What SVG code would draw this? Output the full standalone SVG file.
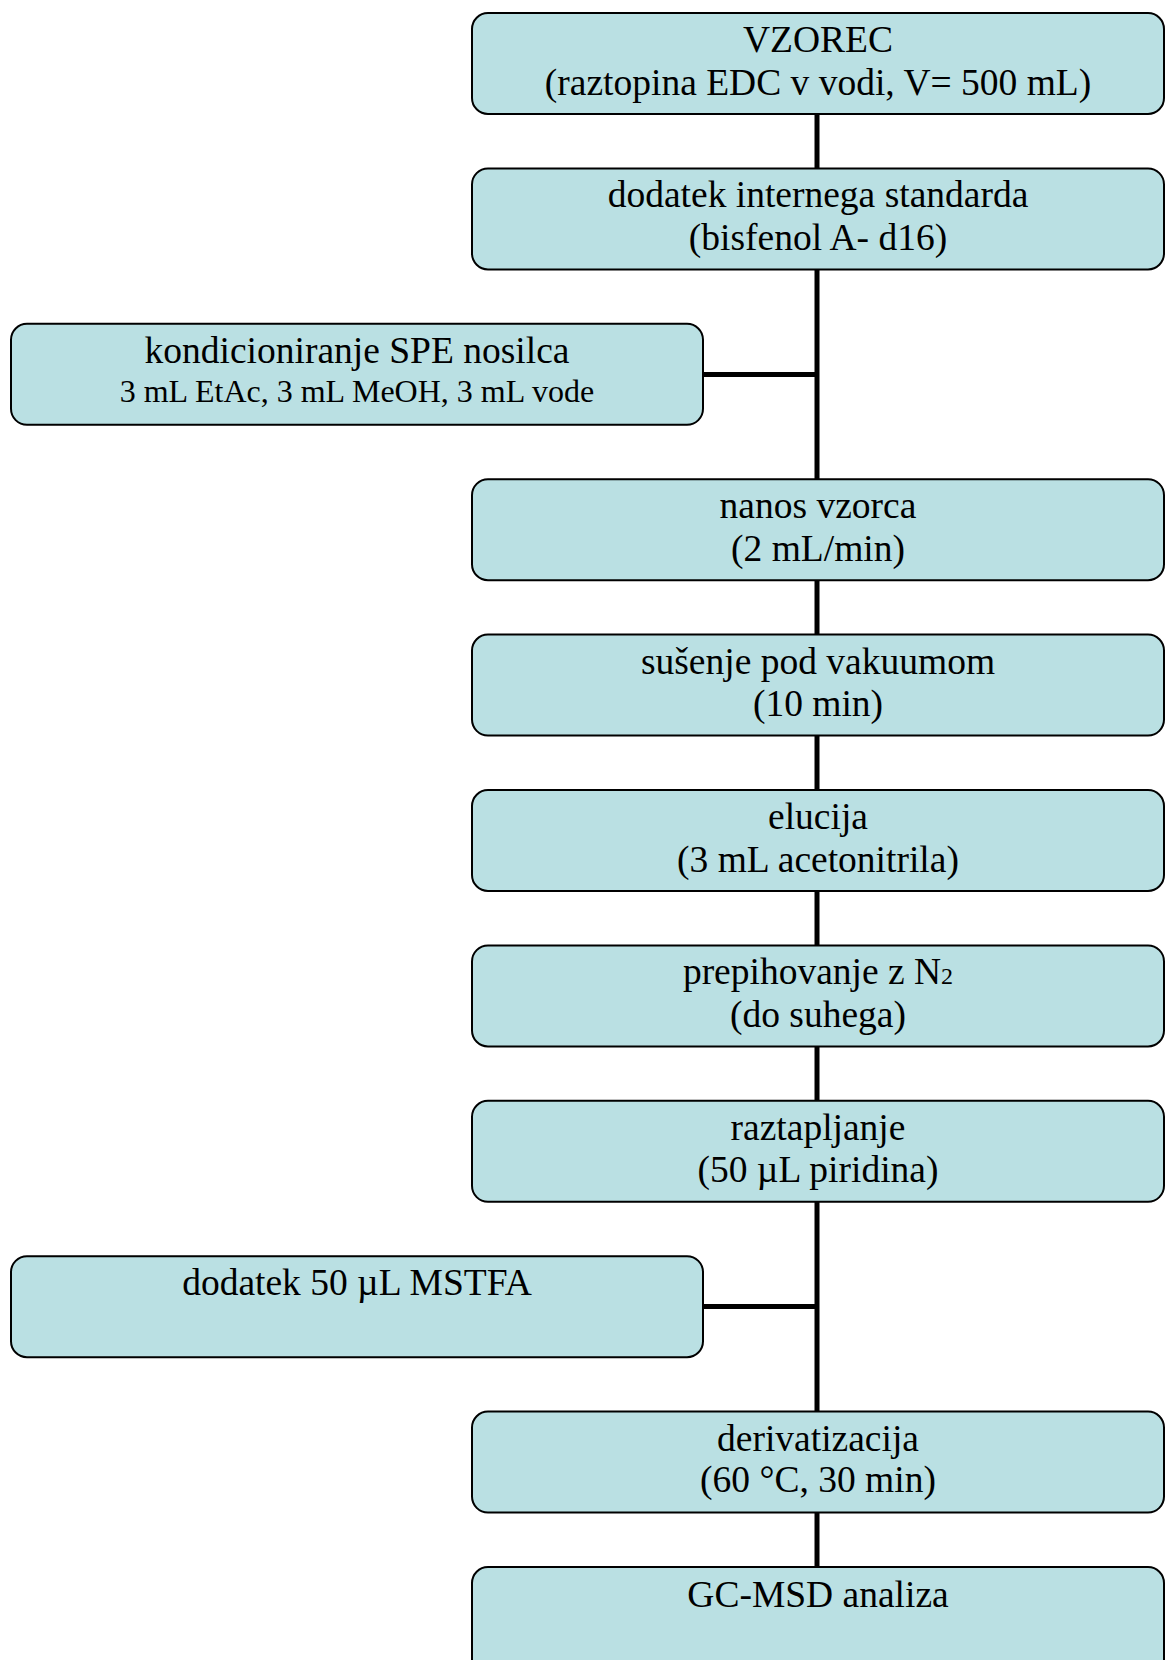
<svg xmlns="http://www.w3.org/2000/svg" width="1165" height="1660" viewBox="0 0 1165 1660">
<style>
.box{fill:#BAE0E3;stroke:#000;stroke-width:2}
.t{font-family:"Liberation Serif","Times New Roman",serif;font-size:37.5px;fill:#000;text-anchor:middle}
.s{font-size:32px}
.c{stroke:#000;stroke-width:5;fill:none}
</style>
<rect width="1165" height="1660" fill="#fff"/>
<g id="connectors">
<line class="c" x1="817" y1="114" x2="817" y2="169"/>
<line class="c" x1="817" y1="269" x2="817" y2="480"/>
<line class="c" x1="703" y1="374.5" x2="819" y2="374.5"/>
<line class="c" x1="817" y1="580" x2="817" y2="635"/>
<line class="c" x1="817" y1="735" x2="817" y2="790"/>
<line class="c" x1="817" y1="891" x2="817" y2="946"/>
<line class="c" x1="817" y1="1046" x2="817" y2="1101"/>
<line class="c" x1="817" y1="1201" x2="817" y2="1412"/>
<line class="c" x1="703" y1="1306.5" x2="819" y2="1306.5"/>
<line class="c" x1="817" y1="1512" x2="817" y2="1567"/>
</g>
<g id="n1"><rect class="box" x="472" y="13" width="692" height="101" rx="16"/>
<text class="t" x="818" y="52">VZOREC</text>
<text class="t" x="818" y="94.5">(raztopina EDC v vodi, V= 500 mL)</text></g>
<g id="n2"><rect class="box" x="472" y="168.4" width="692" height="101" rx="16"/>
<text class="t" x="818" y="207.4">dodatek internega standarda</text>
<text class="t" x="818" y="249.9">(bisfenol A- d16)</text></g>
<g id="n3"><rect class="box" x="11" y="323.8" width="692" height="101" rx="16"/>
<text class="t" x="357" y="362.5">kondicioniranje SPE nosilca</text>
<text class="t s" x="357" y="401.5">3 mL EtAc, 3 mL MeOH, 3 mL vode</text></g>
<g id="n4"><rect class="box" x="472" y="479.2" width="692" height="101" rx="16"/>
<text class="t" x="818" y="518.2">nanos vzorca</text>
<text class="t" x="818" y="560.7">(2 mL/min)</text></g>
<g id="n5"><rect class="box" x="472" y="634.6" width="692" height="101" rx="16"/>
<text class="t" x="818" y="673.6">sušenje pod vakuumom</text>
<text class="t" x="818" y="716.1">(10 min)</text></g>
<g id="n6"><rect class="box" x="472" y="790" width="692" height="101" rx="16"/>
<text class="t" x="818" y="829">elucija</text>
<text class="t" x="818" y="871.5">(3 mL acetonitrila)</text></g>
<g id="n7"><rect class="box" x="472" y="945.4" width="692" height="101" rx="16"/>
<text class="t" x="818" y="984.4">prepihovanje z N<tspan font-size="24">2</tspan></text>
<text class="t" x="818" y="1026.9">(do suhega)</text></g>
<g id="n8"><rect class="box" x="472" y="1100.8" width="692" height="101" rx="16"/>
<text class="t" x="818" y="1139.8">raztapljanje</text>
<text class="t" x="818" y="1182.3">(50 µL piridina)</text></g>
<g id="n9"><rect class="box" x="11" y="1256.2" width="692" height="101" rx="16"/>
<text class="t" x="357" y="1295">dodatek 50 µL MSTFA</text></g>
<g id="n10"><rect class="box" x="472" y="1411.6" width="692" height="101" rx="16"/>
<text class="t" x="818" y="1450.6">derivatizacija</text>
<text class="t" x="818" y="1491.6">(60 °C, 30 min)</text></g>
<g id="n11"><rect class="box" x="472" y="1567" width="692" height="120" rx="16"/>
<text class="t" x="818" y="1606.5">GC-MSD analiza</text></g>
</svg>
